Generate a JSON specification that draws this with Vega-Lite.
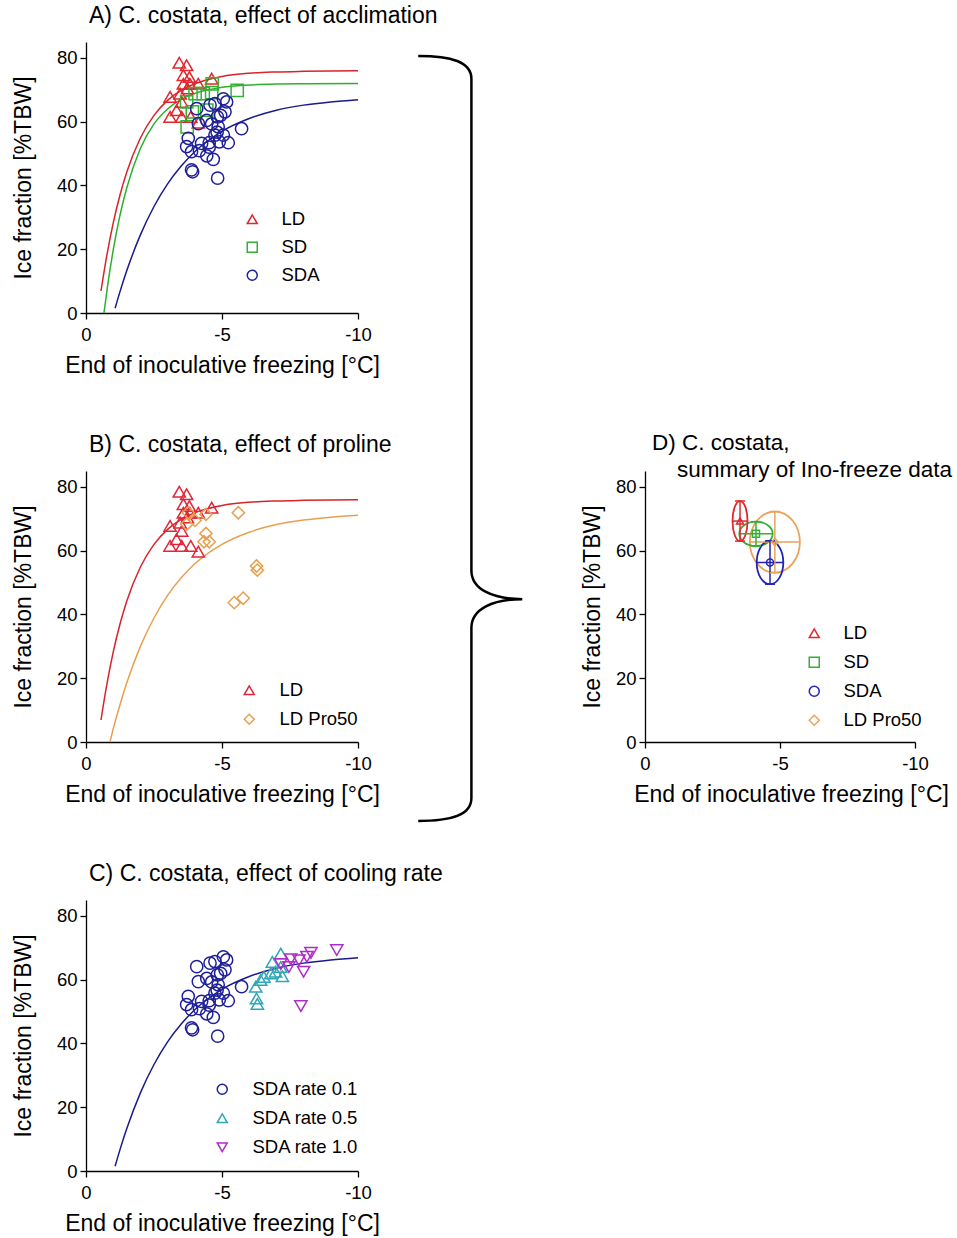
{
  "$schema": "https://vega.github.io/schema/vega-lite/v6.json",
  "padding": {"left": 12, "top": 5, "right": 0, "bottom": 5},
  "bounds": "flush",
  "align": "each",
  "columns": 3,
  "spacing": {"row": 158, "column": 10},
  "resolve": {
    "scale": {"x": "independent", "y": "independent", "color": "independent", "shape": "independent", "stroke": "independent"},
    "legend": {"color": "independent", "shape": "independent"}
  },
  "config": {
    "view": {"stroke": null},
    "font": "Liberation Sans",
    "axis": {"grid": false, "domainColor": "#000", "tickColor": "#000", "labelColor": "#000", "titleColor": "#000", "labelFont": "Liberation Sans", "titleFont": "Liberation Sans", "labelFontSize": 18.5, "titleFontSize": 23, "titleFontWeight": "normal", "tickSize": 6, "domainWidth": 1.3, "tickWidth": 1.3, "labelPadding": 3, "labelFlush": false},
    "axisX": {"titlePadding": 11, "labelPadding": 6},
    "axisY": {"titlePadding": 21},
    "legend": {"labelFont": "Liberation Sans", "labelFontSize": 18.5, "labelColor": "#000", "symbolStrokeWidth": 1.5, "symbolSize": 100, "padding": 0},
    "title": {"font": "Liberation Sans", "fontSize": 23, "fontWeight": "normal", "color": "#000", "anchor": "start", "frame": "group", "offset": 14, "dx": 3}
  },
  "datasets": {
    "pts": [
      {"set": "LD", "t": -3.43, "ice": 78.5}, {"set": "LD", "t": -3.70, "ice": 77.7}, {"set": "LD", "t": -3.58, "ice": 74.6}, {"set": "LD", "t": -3.80, "ice": 74.0}, {"set": "LD", "t": -4.62, "ice": 73.5}, {"set": "LD", "t": -4.13, "ice": 71.9}, {"set": "LD", "t": -3.58, "ice": 71.9}, {"set": "LD", "t": -3.82, "ice": 71.9}, {"set": "LD", "t": -3.73, "ice": 70.4}, {"set": "LD", "t": -3.09, "ice": 67.8}, {"set": "LD", "t": -3.46, "ice": 68.8}, {"set": "LD", "t": -3.52, "ice": 66.2}, {"set": "LD", "t": -3.33, "ice": 63.6}, {"set": "LD", "t": -3.09, "ice": 61.5}, {"set": "LD", "t": -3.52, "ice": 61.5}, {"set": "LD", "t": -3.85, "ice": 61.5}, {"set": "LD", "t": -4.13, "ice": 59.7},
      {"set": "SD", "t": -4.64, "ice": 71.9}, {"set": "SD", "t": -5.56, "ice": 69.8}, {"set": "SD", "t": -4.01, "ice": 68.8}, {"set": "SD", "t": -4.31, "ice": 68.8}, {"set": "SD", "t": -4.62, "ice": 69.1}, {"set": "SD", "t": -3.70, "ice": 66.2}, {"set": "SD", "t": -3.91, "ice": 63.1}, {"set": "SD", "t": -4.44, "ice": 63.6}, {"set": "SD", "t": -3.72, "ice": 58.4},
      {"set": "SDA", "t": -5.05, "ice": 67.2}, {"set": "SDA", "t": -5.17, "ice": 66.2}, {"set": "SDA", "t": -4.74, "ice": 65.7}, {"set": "SDA", "t": -4.07, "ice": 64.1}, {"set": "SDA", "t": -4.56, "ice": 65.2}, {"set": "SDA", "t": -5.11, "ice": 63.1}, {"set": "SDA", "t": -4.83, "ice": 61.5}, {"set": "SDA", "t": -4.44, "ice": 60.4}, {"set": "SDA", "t": -4.13, "ice": 59.4}, {"set": "SDA", "t": -5.72, "ice": 57.8}, {"set": "SDA", "t": -4.86, "ice": 58.4}, {"set": "SDA", "t": -4.74, "ice": 55.8}, {"set": "SDA", "t": -5.05, "ice": 55.8}, {"set": "SDA", "t": -3.76, "ice": 54.8}, {"set": "SDA", "t": -4.25, "ice": 53.2}, {"set": "SDA", "t": -4.53, "ice": 53.4}, {"set": "SDA", "t": -4.90, "ice": 53.7}, {"set": "SDA", "t": -5.23, "ice": 53.4}, {"set": "SDA", "t": -3.70, "ice": 52.2}, {"set": "SDA", "t": -3.88, "ice": 50.6}, {"set": "SDA", "t": -4.17, "ice": 50.9}, {"set": "SDA", "t": -4.53, "ice": 52.0}, {"set": "SDA", "t": -4.44, "ice": 49.3}, {"set": "SDA", "t": -4.68, "ice": 48.2}, {"set": "SDA", "t": -3.88, "ice": 44.9}, {"set": "SDA", "t": -3.92, "ice": 44.3}, {"set": "SDA", "t": -4.84, "ice": 42.3}, {"set": "SDA", "t": -4.82, "ice": 56.7}, {"set": "SDA", "t": -4.62, "ice": 59.3}, {"set": "SDA", "t": -4.95, "ice": 62.0},
      {"set": "LD Pro50", "t": -3.76, "ice": 71.9}, {"set": "LD Pro50", "t": -4.01, "ice": 69.5}, {"set": "LD Pro50", "t": -4.41, "ice": 71.4}, {"set": "LD Pro50", "t": -3.70, "ice": 68.3}, {"set": "LD Pro50", "t": -5.60, "ice": 71.9}, {"set": "LD Pro50", "t": -4.41, "ice": 65.4}, {"set": "LD Pro50", "t": -4.53, "ice": 62.8}, {"set": "LD Pro50", "t": -4.34, "ice": 62.8}, {"set": "LD Pro50", "t": -6.27, "ice": 55.2}, {"set": "LD Pro50", "t": -6.30, "ice": 53.9}, {"set": "LD Pro50", "t": -5.45, "ice": 43.7}, {"set": "LD Pro50", "t": -5.78, "ice": 45.1},
      {"set": "SDA rate 0.5", "t": -7.16, "ice": 68.2}, {"set": "SDA rate 0.5", "t": -6.85, "ice": 65.6}, {"set": "SDA rate 0.5", "t": -7.16, "ice": 64.0}, {"set": "SDA rate 0.5", "t": -6.97, "ice": 62.5}, {"set": "SDA rate 0.5", "t": -6.79, "ice": 62.0}, {"set": "SDA rate 0.5", "t": -7.22, "ice": 61.1}, {"set": "SDA rate 0.5", "t": -6.54, "ice": 60.9}, {"set": "SDA rate 0.5", "t": -6.42, "ice": 59.9}, {"set": "SDA rate 0.5", "t": -6.24, "ice": 57.8}, {"set": "SDA rate 0.5", "t": -6.27, "ice": 54.1}, {"set": "SDA rate 0.5", "t": -6.30, "ice": 52.4},
      {"set": "SDA rate 1.0", "t": -9.22, "ice": 69.3}, {"set": "SDA rate 1.0", "t": -8.27, "ice": 68.4}, {"set": "SDA rate 1.0", "t": -8.12, "ice": 67.2}, {"set": "SDA rate 1.0", "t": -7.53, "ice": 66.4}, {"set": "SDA rate 1.0", "t": -7.83, "ice": 66.1}, {"set": "SDA rate 1.0", "t": -7.16, "ice": 64.9}, {"set": "SDA rate 1.0", "t": -7.46, "ice": 64.0}, {"set": "SDA rate 1.0", "t": -8.00, "ice": 62.5}, {"set": "SDA rate 1.0", "t": -7.90, "ice": 51.7}
    ],
    "fits": [
      {"fit": "LD", "t": -0.55, "ice": 6.9}, {"fit": "LD", "t": -0.75, "ice": 17.3}, {"fit": "LD", "t": -1.0, "ice": 28.2}, {"fit": "LD", "t": -1.25, "ice": 37.0}, {"fit": "LD", "t": -1.5, "ice": 44.2}, {"fit": "LD", "t": -2.0, "ice": 54.9}, {"fit": "LD", "t": -2.5, "ice": 62.0}, {"fit": "LD", "t": -3.0, "ice": 66.7}, {"fit": "LD", "t": -3.5, "ice": 69.8}, {"fit": "LD", "t": -4.0, "ice": 71.9}, {"fit": "LD", "t": -5.0, "ice": 74.2}, {"fit": "LD", "t": -6.0, "ice": 75.2}, {"fit": "LD", "t": -7.0, "ice": 75.6}, {"fit": "LD", "t": -8.0, "ice": 75.8}, {"fit": "LD", "t": -10.0, "ice": 76.0},
      {"fit": "SD", "t": -0.66, "ice": 0.0}, {"fit": "SD", "t": -0.8, "ice": 8.9}, {"fit": "SD", "t": -1.0, "ice": 19.7}, {"fit": "SD", "t": -1.25, "ice": 30.7}, {"fit": "SD", "t": -1.5, "ice": 39.3}, {"fit": "SD", "t": -2.0, "ice": 51.6}, {"fit": "SD", "t": -2.5, "ice": 59.3}, {"fit": "SD", "t": -3.0, "ice": 64.0}, {"fit": "SD", "t": -3.5, "ice": 67.0}, {"fit": "SD", "t": -4.0, "ice": 68.9}, {"fit": "SD", "t": -5.0, "ice": 70.8}, {"fit": "SD", "t": -6.0, "ice": 71.5}, {"fit": "SD", "t": -7.0, "ice": 71.8}, {"fit": "SD", "t": -8.0, "ice": 71.9}, {"fit": "SD", "t": -10.0, "ice": 72.0},
      {"fit": "SDA", "t": -1.07, "ice": 1.5}, {"fit": "SDA", "t": -1.25, "ice": 6.7}, {"fit": "SDA", "t": -1.5, "ice": 13.3}, {"fit": "SDA", "t": -2.0, "ice": 24.5}, {"fit": "SDA", "t": -2.5, "ice": 33.4}, {"fit": "SDA", "t": -3.0, "ice": 40.5}, {"fit": "SDA", "t": -3.5, "ice": 46.1}, {"fit": "SDA", "t": -4.0, "ice": 50.6}, {"fit": "SDA", "t": -4.5, "ice": 54.1}, {"fit": "SDA", "t": -5.0, "ice": 57.0}, {"fit": "SDA", "t": -6.0, "ice": 61.0}, {"fit": "SDA", "t": -7.0, "ice": 63.6}, {"fit": "SDA", "t": -8.0, "ice": 65.2}, {"fit": "SDA", "t": -9.0, "ice": 66.2}, {"fit": "SDA", "t": -10.0, "ice": 66.9},
      {"fit": "LD Pro50", "t": -0.88, "ice": 0.0}, {"fit": "LD Pro50", "t": -1.0, "ice": 4.1}, {"fit": "LD Pro50", "t": -1.25, "ice": 11.7}, {"fit": "LD Pro50", "t": -1.5, "ice": 18.6}, {"fit": "LD Pro50", "t": -2.0, "ice": 30.0}, {"fit": "LD Pro50", "t": -2.5, "ice": 38.9}, {"fit": "LD Pro50", "t": -3.0, "ice": 46.0}, {"fit": "LD Pro50", "t": -3.5, "ice": 51.5}, {"fit": "LD Pro50", "t": -4.0, "ice": 55.9}, {"fit": "LD Pro50", "t": -5.0, "ice": 62.0}, {"fit": "LD Pro50", "t": -6.0, "ice": 65.8}, {"fit": "LD Pro50", "t": -7.0, "ice": 68.2}, {"fit": "LD Pro50", "t": -8.0, "ice": 69.6}, {"fit": "LD Pro50", "t": -9.0, "ice": 70.5}, {"fit": "LD Pro50", "t": -10.0, "ice": 71.1}
    ],
    "summary": [
      {"group": "LD", "t": -3.52, "xlo": -3.24, "xhi": -3.80, "ice": 69.3, "ylo": 63.0, "yhi": 75.6},
      {"group": "SD", "t": -4.11, "xlo": -3.49, "xhi": -4.73, "ice": 65.3, "ylo": 61.5, "yhi": 69.1},
      {"group": "SDA", "t": -4.63, "xlo": -4.14, "xhi": -5.12, "ice": 56.3, "ylo": 49.5, "yhi": 63.1},
      {"group": "LD Pro50", "t": -4.81, "xlo": -3.88, "xhi": -5.74, "ice": 62.7, "ylo": 53.1, "yhi": 72.3}
    ],
    "brace": [{"bx": 0.383, "by": 1.12}]
  },
  "concat": [
    {
      "width": 272, "height": 271,
      "title": {"text": "A) C. costata, effect of acclimation"},
      "layer": [
        {
          "data": {"name": "fits"},
          "transform": [{"filter": {"field": "fit", "oneOf": ["LD", "SD", "SDA"]}}],
          "mark": {"type": "line", "strokeWidth": 1.5, "interpolate": "monotone"},
          "encoding": {
            "x": {"field": "t", "type": "quantitative", "scale": {"domain": [-10, 0], "reverse": true, "nice": false, "zero": false}, "axis": {"title": "End of inoculative freezing [°C]", "values": [0, -5, -10], "labelExpr": "'' + datum.value"}},
            "y": {"field": "ice", "type": "quantitative", "scale": {"domain": [0, 85], "nice": false, "zero": false}, "axis": {"title": "Ice fraction [%TBW]", "values": [0, 20, 40, 60, 80]}},
            "stroke": {"field": "fit", "type": "nominal", "scale": {"domain": ["SDA", "SD", "LD"], "range": ["#1a1a8a", "#2bb02b", "#d8232a"]}, "legend": null}
          }
        },
        {
          "data": {"name": "pts"},
          "transform": [{"filter": {"field": "set", "oneOf": ["LD", "SD", "SDA"]}}],
          "mark": {"type": "point", "filled": false, "opacity": 1, "strokeWidth": 1.5, "size": 150},
          "encoding": {
            "x": {"field": "t", "type": "quantitative", "scale": {"domain": [-10, 0], "reverse": true, "nice": false, "zero": false}, "axis": {"title": "End of inoculative freezing [°C]", "values": [0, -5, -10], "labelExpr": "'' + datum.value"}},
            "y": {"field": "ice", "type": "quantitative", "scale": {"domain": [0, 85], "nice": false, "zero": false}, "axis": {"title": "Ice fraction [%TBW]", "values": [0, 20, 40, 60, 80]}},
            "color": {"field": "set", "type": "nominal", "scale": {"domain": ["LD", "SD", "SDA"], "range": ["#e3262d", "#33b035", "#1f1f9a"]}, "legend": {"title": null, "orient": "none", "legendX": 157, "legendY": 168, "labelOffset": 20, "rowPadding": 9}},
            "shape": {"field": "set", "type": "nominal", "scale": {"domain": ["LD", "SD", "SDA"], "range": ["triangle-up", "square", "circle"]}, "legend": {"title": null, "orient": "none", "legendX": 157, "legendY": 168, "labelOffset": 20, "rowPadding": 9}}
          }
        }
      ]
    },
    {
      "width": 10, "height": 10,
      "data": {"values": []},
      "mark": {"type": "point", "opacity": 0}
    },
    {
      "width": 10, "height": 10,
      "data": {"values": []},
      "mark": {"type": "point", "opacity": 0}
    },
    {
      "width": 272, "height": 271,
      "title": {"text": "B) C. costata, effect of proline"},
      "layer": [
        {
          "data": {"name": "fits"},
          "transform": [{"filter": {"field": "fit", "oneOf": ["LD", "LD Pro50"]}}],
          "mark": {"type": "line", "strokeWidth": 1.5, "interpolate": "monotone"},
          "encoding": {
            "x": {"field": "t", "type": "quantitative", "scale": {"domain": [-10, 0], "reverse": true, "nice": false, "zero": false}, "axis": {"title": "End of inoculative freezing [°C]", "values": [0, -5, -10], "labelExpr": "'' + datum.value"}},
            "y": {"field": "ice", "type": "quantitative", "scale": {"domain": [0, 85], "nice": false, "zero": false}, "axis": {"title": "Ice fraction [%TBW]", "values": [0, 20, 40, 60, 80]}},
            "stroke": {"field": "fit", "type": "nominal", "scale": {"domain": ["LD Pro50", "LD"], "range": ["#e8a04e", "#d8232a"]}, "legend": null}
          }
        },
        {
          "data": {"name": "pts"},
          "transform": [{"filter": {"field": "set", "oneOf": ["LD", "LD Pro50"]}}],
          "mark": {"type": "point", "filled": false, "opacity": 1, "strokeWidth": 1.5, "size": 150},
          "encoding": {
            "x": {"field": "t", "type": "quantitative", "scale": {"domain": [-10, 0], "reverse": true, "nice": false, "zero": false}, "axis": {"title": "End of inoculative freezing [°C]", "values": [0, -5, -10], "labelExpr": "'' + datum.value"}},
            "y": {"field": "ice", "type": "quantitative", "scale": {"domain": [0, 85], "nice": false, "zero": false}, "axis": {"title": "Ice fraction [%TBW]", "values": [0, 20, 40, 60, 80]}},
            "color": {"field": "set", "type": "nominal", "scale": {"domain": ["LD", "LD Pro50"], "range": ["#e0263a", "#e8a04e"]}, "legend": {"title": null, "orient": "none", "legendX": 154, "legendY": 210, "labelOffset": 21, "rowPadding": 10}},
            "shape": {"field": "set", "type": "nominal", "scale": {"domain": ["LD", "LD Pro50"], "range": ["triangle-up", "diamond"]}, "legend": {"title": null, "orient": "none", "legendX": 154, "legendY": 210, "labelOffset": 21, "rowPadding": 10}}
          }
        }
      ]
    },
    {
      "width": 267, "height": 271,
      "data": {"name": "brace"},
      "mark": {"type": "point", "shape": "M -0.136 -1 C -0.05 -1 0.003 -0.985 0.003 -0.94 L 0.003 0.345 C 0.003 0.395 0.06 0.42 0.136 0.42 C 0.06 0.42 0.003 0.445 0.003 0.495 L 0.003 0.94 C 0.003 0.985 -0.05 1 -0.136 1", "size": 585225, "filled": false, "stroke": "#000", "strokeWidth": 2.5, "opacity": 1},
      "encoding": {
        "x": {"field": "bx", "type": "quantitative", "scale": {"domain": [0, 1], "nice": false, "zero": false}, "axis": null},
        "y": {"field": "by", "type": "quantitative", "scale": {"domain": [0, 1], "nice": false, "zero": false}, "axis": null}
      }
    },
    {
      "width": 270, "height": 271,
      "title": {"text": ["D) C. costata,", "\u200b\u00a0\u00a0\u00a0\u00a0summary of Ino-freeze data"], "offset": -10, "lineHeight": 27, "dx": 7, "fontSize": 22.5},
      "data": {"name": "summary"},
      "layer": [
        {
          "transform": [{"filter": "datum.group == 'LD Pro50'"}],
          "mark": {"type": "point", "shape": "M 0.82 0 C 0.82 0.5523 0.4529 1 0 1 C -0.4529 1 -0.82 0.5523 -0.82 0 C -0.82 -0.5523 -0.4529 -1 0 -1 C 0.4529 -1 0.82 -0.5523 0.82 0 Z", "size": 3721, "filled": false, "opacity": 1, "color": "#e8a35a", "strokeWidth": 1.8},
          "encoding": {
            "x": {"field": "t", "type": "quantitative", "scale": {"domain": [-10, 0], "reverse": true, "nice": false, "zero": false}, "axis": {"title": "End of inoculative freezing [°C]", "values": [0, -5, -10], "labelExpr": "'' + datum.value", "titleX": 146}},
            "y": {"field": "ice", "type": "quantitative", "scale": {"domain": [0, 85], "nice": false, "zero": false}, "axis": {"title": "Ice fraction [%TBW]", "values": [0, 20, 40, 60, 80], "titlePadding": 11}}
          }
        },
        {
          "transform": [{"filter": "datum.group == 'SD'"}],
          "mark": {"type": "point", "shape": "M 1 0 C 1 0.4032 0.5523 0.73 0 0.73 C -0.5523 0.73 -1 0.4032 -1 0 C -1 -0.4032 -0.5523 -0.73 0 -0.73 C 0.5523 -0.73 1 -0.4032 1 0 Z", "size": 1116, "filled": false, "opacity": 1, "color": "#33b035", "strokeWidth": 1.8},
          "encoding": {
            "x": {"field": "t", "type": "quantitative", "scale": {"domain": [-10, 0], "reverse": true, "nice": false, "zero": false}, "axis": {"title": "End of inoculative freezing [°C]", "values": [0, -5, -10], "labelExpr": "'' + datum.value", "titleX": 146}},
            "y": {"field": "ice", "type": "quantitative", "scale": {"domain": [0, 85], "nice": false, "zero": false}, "axis": {"title": "Ice fraction [%TBW]", "values": [0, 20, 40, 60, 80], "titlePadding": 11}}
          }
        },
        {
          "transform": [{"filter": "datum.group == 'SDA'"}],
          "mark": {"type": "point", "shape": "M 0.613 0 C 0.613 0.5523 0.3386 1 0 1 C -0.3386 1 -0.613 0.5523 -0.613 0 C -0.613 -0.5523 -0.3386 -1 0 -1 C 0.3386 -1 0.613 -0.5523 0.613 0 Z", "size": 1884, "filled": false, "opacity": 1, "color": "#2323b8", "strokeWidth": 1.8},
          "encoding": {
            "x": {"field": "t", "type": "quantitative", "scale": {"domain": [-10, 0], "reverse": true, "nice": false, "zero": false}, "axis": {"title": "End of inoculative freezing [°C]", "values": [0, -5, -10], "labelExpr": "'' + datum.value", "titleX": 146}},
            "y": {"field": "ice", "type": "quantitative", "scale": {"domain": [0, 85], "nice": false, "zero": false}, "axis": {"title": "Ice fraction [%TBW]", "values": [0, 20, 40, 60, 80], "titlePadding": 11}}
          }
        },
        {
          "transform": [{"filter": "datum.group == 'LD'"}],
          "mark": {"type": "point", "shape": "M 0.375 0 C 0.375 0.5523 0.2071 1 0 1 C -0.2071 1 -0.375 0.5523 -0.375 0 C -0.375 -0.5523 -0.2071 -1 0 -1 C 0.2071 -1 0.375 -0.5523 0.375 0 Z", "size": 1600, "filled": false, "opacity": 1, "color": "#e0282f", "strokeWidth": 1.8},
          "encoding": {
            "x": {"field": "t", "type": "quantitative", "scale": {"domain": [-10, 0], "reverse": true, "nice": false, "zero": false}, "axis": {"title": "End of inoculative freezing [°C]", "values": [0, -5, -10], "labelExpr": "'' + datum.value", "titleX": 146}},
            "y": {"field": "ice", "type": "quantitative", "scale": {"domain": [0, 85], "nice": false, "zero": false}, "axis": {"title": "Ice fraction [%TBW]", "values": [0, 20, 40, 60, 80], "titlePadding": 11}}
          }
        },
        {
          "mark": {"type": "rule", "strokeWidth": 1.5},
          "encoding": {
            "x": {"field": "xlo", "type": "quantitative", "scale": {"domain": [-10, 0], "reverse": true, "nice": false, "zero": false}, "axis": {"title": "End of inoculative freezing [°C]", "values": [0, -5, -10], "labelExpr": "'' + datum.value", "titleX": 146}},
            "x2": {"field": "xhi"},
            "y": {"field": "ice", "type": "quantitative", "scale": {"domain": [0, 85], "nice": false, "zero": false}, "axis": {"title": "Ice fraction [%TBW]", "values": [0, 20, 40, 60, 80], "titlePadding": 11}},
            "stroke": {"field": "group", "type": "nominal", "scale": {"domain": ["LD Pro50", "SDA", "SD", "LD"], "range": ["#e8a35a", "#2323b8", "#33b035", "#e0282f"]}, "legend": null}
          }
        },
        {
          "mark": {"type": "rule", "strokeWidth": 1.5},
          "encoding": {
            "x": {"field": "t", "type": "quantitative", "scale": {"domain": [-10, 0], "reverse": true, "nice": false, "zero": false}, "axis": {"title": "End of inoculative freezing [°C]", "values": [0, -5, -10], "labelExpr": "'' + datum.value", "titleX": 146}},
            "y": {"field": "ylo", "type": "quantitative", "scale": {"domain": [0, 85], "nice": false, "zero": false}, "axis": {"title": "Ice fraction [%TBW]", "values": [0, 20, 40, 60, 80], "titlePadding": 11}},
            "y2": {"field": "yhi"},
            "stroke": {"field": "group", "type": "nominal", "scale": {"domain": ["LD Pro50", "SDA", "SD", "LD"], "range": ["#e8a35a", "#2323b8", "#33b035", "#e0282f"]}, "legend": null}
          }
        },
        {
          "mark": {"type": "point", "shape": "stroke", "size": 100, "filled": false, "opacity": 1, "strokeWidth": 1.5},
          "encoding": {
            "x": {"field": "t", "type": "quantitative", "scale": {"domain": [-10, 0], "reverse": true, "nice": false, "zero": false}, "axis": {"title": "End of inoculative freezing [°C]", "values": [0, -5, -10], "labelExpr": "'' + datum.value", "titleX": 146}},
            "y": {"field": "yhi", "type": "quantitative", "scale": {"domain": [0, 85], "nice": false, "zero": false}, "axis": {"title": "Ice fraction [%TBW]", "values": [0, 20, 40, 60, 80], "titlePadding": 11}},
            "stroke": {"field": "group", "type": "nominal", "scale": {"domain": ["LD Pro50", "SDA", "SD", "LD"], "range": ["#e8a35a", "#2323b8", "#33b035", "#e0282f"]}, "legend": null}
          }
        },
        {
          "mark": {"type": "point", "shape": "stroke", "size": 100, "filled": false, "opacity": 1, "strokeWidth": 1.5},
          "encoding": {
            "x": {"field": "t", "type": "quantitative", "scale": {"domain": [-10, 0], "reverse": true, "nice": false, "zero": false}, "axis": {"title": "End of inoculative freezing [°C]", "values": [0, -5, -10], "labelExpr": "'' + datum.value", "titleX": 146}},
            "y": {"field": "ylo", "type": "quantitative", "scale": {"domain": [0, 85], "nice": false, "zero": false}, "axis": {"title": "Ice fraction [%TBW]", "values": [0, 20, 40, 60, 80], "titlePadding": 11}},
            "stroke": {"field": "group", "type": "nominal", "scale": {"domain": ["LD Pro50", "SDA", "SD", "LD"], "range": ["#e8a35a", "#2323b8", "#33b035", "#e0282f"]}, "legend": null}
          }
        },
        {
          "mark": {"type": "point", "filled": false, "opacity": 1, "strokeWidth": 1.5, "size": 50},
          "encoding": {
            "x": {"field": "t", "type": "quantitative", "scale": {"domain": [-10, 0], "reverse": true, "nice": false, "zero": false}, "axis": {"title": "End of inoculative freezing [°C]", "values": [0, -5, -10], "labelExpr": "'' + datum.value", "titleX": 146}},
            "y": {"field": "ice", "type": "quantitative", "scale": {"domain": [0, 85], "nice": false, "zero": false}, "axis": {"title": "Ice fraction [%TBW]", "values": [0, 20, 40, 60, 80], "titlePadding": 11}},
            "color": {"field": "group", "type": "nominal", "scale": {"domain": ["LD", "SD", "SDA", "LD Pro50"], "range": ["#e0282f", "#33b035", "#2323b8", "#e8a35a"]}, "legend": {"title": null, "orient": "none", "legendX": 160, "legendY": 153, "labelOffset": 20, "rowPadding": 10}},
            "shape": {"field": "group", "type": "nominal", "scale": {"domain": ["LD", "SD", "SDA", "LD Pro50"], "range": ["triangle-up", "square", "circle", "diamond"]}, "legend": {"title": null, "orient": "none", "legendX": 160, "legendY": 153, "labelOffset": 20, "rowPadding": 10}}
          }
        }
      ]
    },
    {
      "width": 272, "height": 271,
      "title": {"text": "C) C. costata, effect of cooling rate"},
      "layer": [
        {
          "data": {"name": "fits"},
          "transform": [{"filter": {"field": "fit", "oneOf": ["SDA"]}}],
          "mark": {"type": "line", "strokeWidth": 1.5, "interpolate": "monotone"},
          "encoding": {
            "x": {"field": "t", "type": "quantitative", "scale": {"domain": [-10, 0], "reverse": true, "nice": false, "zero": false}, "axis": {"title": "End of inoculative freezing [°C]", "values": [0, -5, -10], "labelExpr": "'' + datum.value"}},
            "y": {"field": "ice", "type": "quantitative", "scale": {"domain": [0, 85], "nice": false, "zero": false}, "axis": {"title": "Ice fraction [%TBW]", "values": [0, 20, 40, 60, 80]}},
            "stroke": {"field": "fit", "type": "nominal", "scale": {"domain": ["SDA"], "range": ["#1a1a8a"]}, "legend": null}
          }
        },
        {
          "data": {"name": "pts"},
          "transform": [{"filter": {"field": "set", "oneOf": ["SDA", "SDA rate 0.5", "SDA rate 1.0"]}}],
          "mark": {"type": "point", "filled": false, "opacity": 1, "strokeWidth": 1.5, "size": 150},
          "encoding": {
            "x": {"field": "t", "type": "quantitative", "scale": {"domain": [-10, 0], "reverse": true, "nice": false, "zero": false}, "axis": {"title": "End of inoculative freezing [°C]", "values": [0, -5, -10], "labelExpr": "'' + datum.value"}},
            "y": {"field": "ice", "type": "quantitative", "scale": {"domain": [0, 85], "nice": false, "zero": false}, "axis": {"title": "Ice fraction [%TBW]", "values": [0, 20, 40, 60, 80]}},
            "color": {"field": "set", "type": "nominal", "scale": {"domain": ["SDA", "SDA rate 0.5", "SDA rate 1.0"], "range": ["#1f1f9a", "#2fa7b5", "#b02cc8"]}, "legend": {"title": null, "orient": "none", "legendX": 127, "legendY": 180, "labelOffset": 21, "rowPadding": 10, "labelExpr": "datum.label == 'SDA' ? 'SDA rate 0.1' : datum.label"}},
            "shape": {"field": "set", "type": "nominal", "scale": {"domain": ["SDA", "SDA rate 0.5", "SDA rate 1.0"], "range": ["circle", "triangle-up", "triangle-down"]}, "legend": {"title": null, "orient": "none", "legendX": 127, "legendY": 180, "labelOffset": 21, "rowPadding": 10, "labelExpr": "datum.label == 'SDA' ? 'SDA rate 0.1' : datum.label"}}
          }
        }
      ]
    }
  ]
}
